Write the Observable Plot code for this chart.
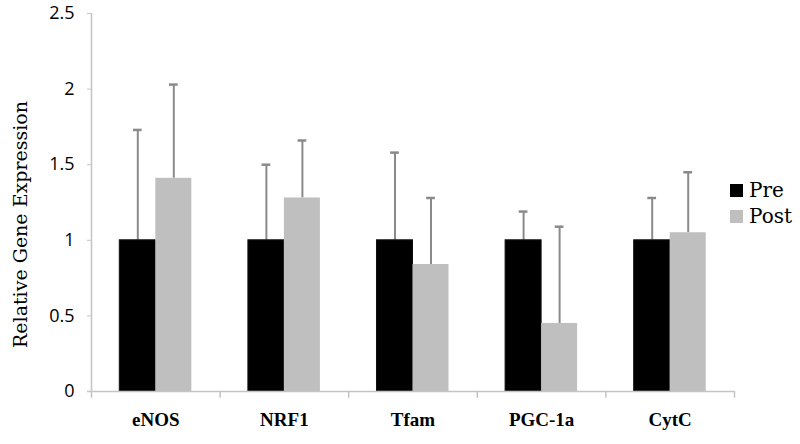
<!DOCTYPE html>
<html>
<head>
<meta charset="utf-8">
<script src="https://cdn.jsdelivr.net/npm/d3@7"></script>
<script src="https://cdn.jsdelivr.net/npm/@observablehq/plot@0.6"></script>
<style>
  html, body { margin: 0; padding: 0; background: #fff; }
  #wrap { position: relative; width: 800px; height: 444px; }
  .leg { position: absolute; left: 730px; font-family: "DejaVu Serif", serif; font-size: 20px; color: #000; display: flex; align-items: center; height: 26px; }
  .sw { width: 13px; height: 13px; margin-right: 6px; display: inline-block; }
  svg g[aria-label="y-axis tick label"] text { font-size: 18px; font-family: "Open Sans", sans-serif; }
  svg g[aria-label="x-axis tick label"] text { font-size: 19px; font-weight: bold; font-family: "Liberation Serif", serif; }
</style>
</head>
<body>
<div id="wrap"></div>
<script>
const genes = ["eNOS", "NRF1", "Tfam", "PGC-1a", "CytC"];
const groups = ["Pre", "Post"];
const preMean = [1, 1, 1, 1, 1];
const preSD = [0.73, 0.50, 0.58, 0.19, 0.28];
const postMean = [1.41, 1.28, 0.84, 0.45, 1.05];
const postSD = [0.62, 0.38, 0.44, 0.64, 0.40];
const yTicks = [0, 0.5, 1, 1.5, 2, 2.5];
const yTitle = "Relative Gene Expression";
const colors = {Pre: "#000000", Post: "#bfbfbf"};

const bw = 0.28; // bar width in category units
const rows = [];
genes.forEach((g, i) => {
  rows.push({gene: g, i, group: "Pre", mean: preMean[i], sd: preSD[i], x1: i + 0.5 - bw, x2: i + 0.5});
  rows.push({gene: g, i, group: "Post", mean: postMean[i], sd: postSD[i], x1: i + 0.5, x2: i + 0.5 + bw});
});
rows.forEach(d => { d.xc = (d.x1 + d.x2) / 2; d.top = d.mean + d.sd; });
const bounds = d3.range(genes.length + 1);
const centers = genes.map((g, i) => i + 0.5);

const chart = Plot.plot({
  width: 800,
  height: 444,
  marginTop: 13,
  marginBottom: 53,
  marginLeft: 91,
  marginRight: 66,
  x: {type: "linear", domain: [0, genes.length]},
  y: {domain: [0, 2.5]},
  marks: [
    Plot.ruleX([0], {y1: 0, y2: 2.5, stroke: "#c4c4c4", strokeWidth: 1.5}),
    Plot.axisY({ticks: yTicks, tickFormat: d => String(d), tickSize: 4, tickPadding: 13, stroke: "#c4c4c4",
      fill: "#000", label: null}),
    Plot.text([yTitle], {text: d => d, frameAnchor: "left", textAnchor: "middle", lineAnchor: "middle", rotate: -90, dx: -71, dy: 22,
      fontSize: 19, fontFamily: "DejaVu Serif, serif", fill: "#000"}),
    Plot.axisX({ticks: centers, tickFormat: (d) => genes[Math.round(d - 0.5)], tickSize: 0, tickPadding: 21,
      fill: "#000", label: null}),
    Plot.ruleX(rows, {x: "xc", y1: "mean", y2: "top", stroke: "#8a8a8a", strokeWidth: 2}),
    Plot.ruleY(rows, {y: "top", x1: d => d.xc - 0.034, x2: d => d.xc + 0.034, stroke: "#8a8a8a", strokeWidth: 2.5}),
    Plot.rectY(rows, {x1: "x1", x2: "x2", y1: 0, y2: "mean", fill: d => colors[d.group], stroke: d => d.group === "Pre" ? "#111" : "none", strokeWidth: 1}),
    Plot.ruleY([0], {x1: 0, x2: genes.length, insetLeft: -4, stroke: "#c4c4c4", strokeWidth: 1.5}),
    Plot.ruleX(bounds, {x: d => d, y1: 0, y2: -0.045, stroke: "#c4c4c4", strokeWidth: 1.5})
  ]
});
const wrap = document.getElementById("wrap");
wrap.appendChild(chart);
groups.forEach((g, k) => {
  const el = document.createElement("div");
  el.className = "leg";
  el.style.top = (177 + k * 26) + "px";
  el.innerHTML = `<span class="sw" style="background:${colors[g]}"></span><span>${g}</span>`;
  wrap.appendChild(el);
});
</script>
</body>
</html>
